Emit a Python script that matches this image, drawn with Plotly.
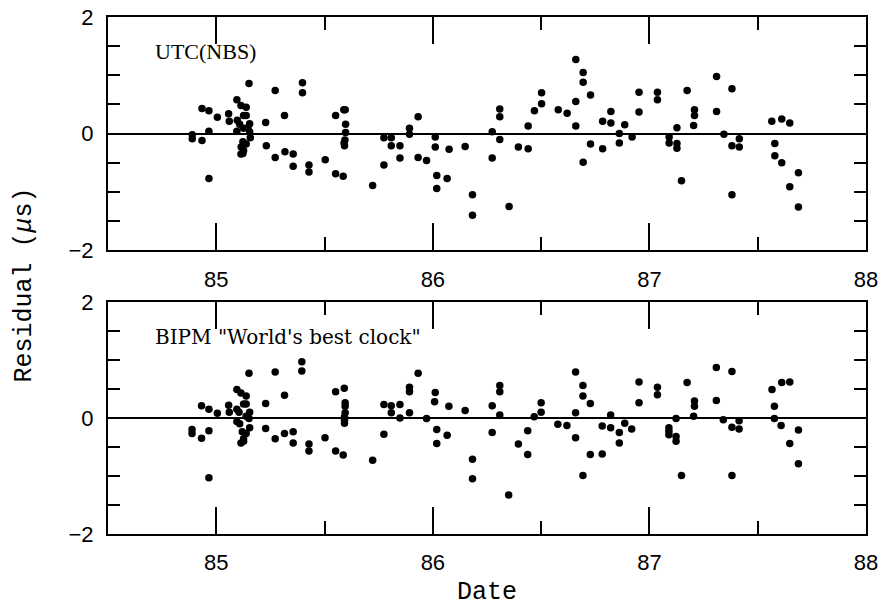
import plotly.graph_objects as pltly
from plotly.subplots import make_subplots

nbs_date = [84.889, 84.889, 84.934, 84.934, 84.966, 84.966, 84.966, 85.005, 85.057, 85.060,
            85.151, 85.095, 85.114, 85.138, 85.126, 85.138, 85.097, 85.108, 85.154, 85.126,
            85.146, 85.095, 85.154, 85.157, 85.123, 85.138, 85.115, 85.126, 85.114, 85.123,
            85.228, 85.231, 85.272, 85.272, 85.315, 85.317, 85.355, 85.355, 85.398, 85.398,
            85.428, 85.428, 85.503, 85.551, 85.551, 85.586, 85.589, 85.595, 85.597, 85.597,
            85.594, 85.592, 85.590, 85.722, 85.774, 85.774, 85.808, 85.808, 85.848, 85.848,
            85.892, 85.892, 85.932, 85.932, 85.971, 86.011, 86.011, 86.018, 86.018, 86.066,
            86.075, 86.149, 86.183, 86.183, 86.274, 86.274,
            86.309, 86.309, 86.309, 86.352, 86.395, 86.440, 86.440, 86.469, 86.502, 86.502,
            86.579, 86.620, 86.660, 86.660, 86.660, 86.694, 86.694, 86.694, 86.728, 86.728,
            86.784, 86.784, 86.822, 86.822, 86.861, 86.861, 86.886, 86.920, 86.952, 86.952,
            87.037, 87.037, 87.091, 87.091, 87.127, 87.127, 87.127, 87.148, 87.174, 87.208,
            87.208, 87.204, 87.310, 87.310, 87.344, 87.381, 87.381, 87.381, 87.415, 87.415,
            87.565, 87.579, 87.579, 87.611, 87.611, 87.648, 87.648, 87.688, 87.688]
nbs_resid = [-0.02, -0.09, 0.43, -0.12, 0.39, 0.04, -0.77, 0.28, 0.34, 0.21,
             0.86, 0.58, 0.48, 0.45, 0.31, 0.31, 0.23, 0.16, 0.17, 0.09,
             0.10, 0.04, 0.03, -0.07, -0.14, -0.18, -0.23, -0.29, -0.35, -0.34,
             0.19, -0.21, 0.74, -0.41, 0.31, -0.31, -0.35, -0.56, 0.87, 0.70,
             -0.54, -0.66, -0.45, 0.31, -0.69, -0.73, 0.41, 0.41, 0.16, 0.02,
             -0.11, -0.21, -0.16, -0.89, -0.07, -0.54, -0.07, -0.21, -0.21, -0.42,
             0.09, -0.01, 0.29, -0.41, -0.46, -0.06, -0.23, -0.72, -0.94, -0.77,
             -0.27, -0.22, -1.05, -1.40, -0.42, 0.03,
             0.42, 0.29, -0.10, -1.25, -0.23, 0.13, -0.26, 0.39, 0.70, 0.51,
             0.41, 0.35, 1.27, 0.55, 0.13, 1.05, 0.88, -0.49, 0.66, -0.18,
             0.21, -0.26, 0.38, 0.18, 0.00, -0.16, 0.15, -0.06, 0.71, 0.37,
             0.71, 0.58, -0.06, -0.16, 0.10, -0.17, -0.25, -0.81, 0.74, 0.41,
             0.31, 0.14, 0.98, 0.38, -0.01, 0.77, -0.21, -1.05, -0.09, -0.23,
             0.21, -0.17, -0.38, 0.25, -0.50, 0.18, -0.91, -0.67, -1.26]

bipm_date = [84.888, 84.888, 84.932, 84.932, 84.966, 84.966, 84.966, 85.005, 85.057, 85.060,
             85.095, 85.114, 85.138, 85.151, 85.126, 85.138, 85.095, 85.105, 85.154, 85.138,
             85.151, 85.095, 85.108, 85.154, 85.120, 85.138, 85.126, 85.114, 85.126,
             85.228, 85.228, 85.272, 85.272, 85.315, 85.315, 85.355, 85.355, 85.395, 85.395,
             85.428, 85.428, 85.502, 85.551, 85.551, 85.586, 85.591, 85.595, 85.595, 85.595,
             85.592, 85.592, 85.592, 85.722, 85.774, 85.774, 85.808, 85.808, 85.848, 85.848,
             85.892, 85.892, 85.892, 85.932, 85.971, 86.011, 86.008, 86.018, 86.018, 86.066,
             86.074, 86.149, 86.183, 86.183, 86.274, 86.274,
             86.309, 86.309, 86.309, 86.350, 86.395, 86.438, 86.438, 86.468, 86.500, 86.500,
             86.577, 86.619, 86.659, 86.659, 86.659, 86.693, 86.693, 86.693, 86.727, 86.727,
             86.782, 86.782, 86.821, 86.821, 86.861, 86.861, 86.886, 86.918, 86.952, 86.952,
             87.037, 87.037, 87.090, 87.090, 87.090, 87.123, 87.123, 87.123, 87.148, 87.174,
             87.208, 87.208, 87.204, 87.309, 87.309, 87.341, 87.381, 87.381, 87.381, 87.414,
             87.414, 87.566, 87.577, 87.577, 87.611, 87.608, 87.648, 87.648, 87.688, 87.688]
bipm_resid = [-0.20, -0.27, 0.21, -0.35, 0.15, -0.22, -1.03, 0.08, 0.22, 0.10,
              0.49, 0.43, 0.38, 0.77, 0.24, 0.24, 0.15, 0.10, 0.10, 0.03,
              -0.01, -0.06, -0.10, -0.17, -0.24, -0.27, -0.36, -0.43, -0.40,
              0.25, -0.18, 0.79, -0.36, 0.39, -0.27, -0.24, -0.43, 0.97, 0.81,
              -0.45, -0.57, -0.34, 0.45, -0.57, -0.64, 0.51, 0.26, 0.20, 0.09,
              0.02, -0.04, -0.09, -0.73, 0.23, -0.28, 0.21, 0.09, 0.23, 0.00,
              0.53, 0.45, 0.09, 0.77, -0.01, 0.44, 0.28, -0.20, -0.44, -0.30,
              0.20, 0.13, -0.71, -1.05, 0.21, -0.25,
              0.56, 0.45, 0.05, -1.33, -0.45, -0.22, -0.63, 0.02, 0.26, 0.10,
              -0.11, -0.13, 0.79, 0.09, -0.34, 0.56, 0.38, -0.99, 0.25, -0.63,
              -0.14, -0.62, 0.05, -0.17, -0.25, -0.43, -0.09, -0.19, 0.62, 0.26,
              0.53, 0.40, -0.17, -0.23, -0.29, -0.01, -0.32, -0.40, -0.99, 0.61,
              0.29, 0.20, 0.03, 0.87, 0.30, -0.03, 0.80, -0.16, -0.99, -0.05,
              -0.19, 0.49, 0.20, -0.01, 0.61, -0.13, 0.62, -0.44, -0.21, -0.79]

panel_labels = ["UTC(NBS)", "BIPM \"World's best clock\""]
x_ticks = [85, 86, 87, 88]
y_ticks = [-2, 0, 2]

fig = make_subplots(rows = 2, cols = 1, vertical_spacing = 0.1)

# This will add the two scatter panels...
fig.add_trace(pltly.Scatter(x = nbs_date, y = nbs_resid, mode = 'markers',
                            marker = dict(color = 'black', size = 7.5)), row = 1, col = 1)
fig.add_trace(pltly.Scatter(x = bipm_date, y = bipm_resid, mode = 'markers',
                            marker = dict(color = 'black', size = 7.5)), row = 2, col = 1)

tick_font = dict(family = 'Liberation Sans, Arial, sans-serif', size = 22, color = 'black')

fig.update_xaxes(range = [84.5, 88], tickvals = x_ticks, ticks = 'inside', ticklen = 27,
                 tickwidth = 1.5, tickcolor = 'black', minor = dict(dtick = 0.5, ticklen = 13, tickwidth = 1.5,
                 tickcolor = 'black', ticks = 'inside'), showline = True, linewidth = 2, linecolor = 'black',
                 mirror = 'ticks', showgrid = False, zeroline = False, tickfont = tick_font,
                 ticklabelstandoff = 8, automargin = False, ticklabeloverflow = 'allow')
fig.update_yaxes(range = [-2, 2], tickvals = y_ticks, ticks = 'inside', ticklen = 12,
                 tickwidth = 1.5, tickcolor = 'black', minor = dict(dtick = 0.5, ticklen = 12, tickwidth = 1.5,
                 tickcolor = 'black', ticks = 'inside'), showline = True, linewidth = 2, linecolor = 'black',
                 mirror = 'ticks', showgrid = False, zeroline = True, zerolinecolor = 'black',
                 zerolinewidth = 1.5, tickfont = tick_font, ticklabelstandoff = 8, automargin = False,
                 ticklabeloverflow = 'allow')

fig.update_layout(yaxis = dict(domain = [0.549, 1.0]), yaxis2 = dict(domain = [0.0, 0.449]))

# This will add the panel labels...
fig.add_annotation(text = panel_labels[0], xref = 'x domain', yref = 'y domain', x = 0.06, y = 0.85,
                   xanchor = 'left', yanchor = 'middle', showarrow = False,
                   font = dict(family = 'Liberation Serif, Times New Roman, serif', size = 22, color = 'black'))
fig.add_annotation(text = panel_labels[1], xref = 'x2 domain', yref = 'y2 domain', x = 0.06, y = 0.85,
                   xanchor = 'left', yanchor = 'middle', showarrow = False,
                   font = dict(family = 'DejaVu Serif, serif', size = 20, color = 'black'))

# This will add the axis titles...
title_font = dict(family = 'Liberation Mono, Courier New, monospace', size = 25, color = 'black')
fig.add_annotation(text = 'Date', xref = 'paper', yref = 'paper', x = 0.5, y = -0.114,
                   xanchor = 'center', yanchor = 'middle', showarrow = False, font = title_font)
fig.add_annotation(text = 'Residual (<i>\u03bc</i>s)', xref = 'paper', yref = 'paper', x = -0.11, y = 0.482,
                   xanchor = 'center', yanchor = 'middle', textangle = -90, showarrow = False, font = title_font)

# The page body adds an 8px margin, so the figure is shifted by 8px...
fig.update_layout(width = 878, height = 605, showlegend = False, plot_bgcolor = 'white',
                  paper_bgcolor = 'white', margin = dict(l = 100, r = 20, t = 9, b = 79))

fig.write_html("out.html")
